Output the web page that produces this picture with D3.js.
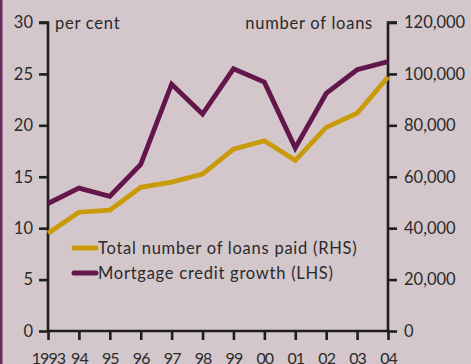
<!DOCTYPE html>
<html><head><meta charset="utf-8">
<script src="https://cdn.jsdelivr.net/npm/d3@7"></script>
<style>
html,body{margin:0;padding:0;background:#d3c7cb;}
svg{display:block;}
text{font-family:Lato,"Open Sans",sans-serif;fill:#2a2a2a;}
</style></head>
<body>
<script>
const years = [1993,1994,1995,1996,1997,1998,1999,2000,2001,2002,2003,2004];
const yearLabels = ["1993","94","95","96","97","98","99","00","01","02","03","04"];
const mortgageGrowth = [12.4,13.9,13.1,16.2,24.0,21.1,25.5,24.2,17.8,23.1,25.4,26.2];
const loansPaid = [38000,46200,47000,55900,57900,61000,70700,74000,66400,79200,84700,98800];
const leftTicks = [0,5,10,15,20,25,30];
const rightTicks = [0,20000,40000,60000,80000,100000,120000];
const seriesNames = ["Total number of loans paid (RHS)","Mortgage credit growth (LHS)"];

const W=471,H=364;
const svg=d3.select("body").append("svg").attr("width",W).attr("height",H);
svg.append("rect").attr("width",W).attr("height",H).attr("fill","#d3c7cb");
svg.append("rect").attr("x",0).attr("y",0).attr("width",2.5).attr("height",H).attr("fill","#6a2a5c");

const x=d3.scaleLinear().domain([1993,2004]).range([48,388]);
const yL=d3.scaleLinear().domain([0,30]).range([331,22.5]);
const yR=d3.scaleLinear().domain([0,120000]).range([331,22.5]);

const axisColor="#1e1e1e";
const fs="16.5px";
const ls="0.75px";

const gl=svg.append("g").attr("transform","translate(48,0)")
  .call(d3.axisLeft(yL).tickValues(leftTicks).tickSize(9).tickPadding(6).tickFormat(d3.format("d")));
const gr=svg.append("g").attr("transform","translate(388,0)")
  .call(d3.axisRight(yR).tickValues(rightTicks).tickSize(9).tickPadding(7).tickFormat(d=>d===0?"0":d3.format(",")(d)));
const gb=svg.append("g").attr("transform","translate(0,331)")
  .call(d3.axisBottom(x).tickValues(years).tickSize(9).tickPadding(13).tickFormat((d,i)=>yearLabels[i]));

[gl,gr,gb].forEach(g=>{
  g.selectAll(".domain").attr("stroke",axisColor).attr("stroke-width",2.6);
  g.selectAll(".tick line").attr("stroke",axisColor).attr("stroke-width",2.6);
  g.selectAll("text").attr("font-size",fs).attr("fill","#2a2a2a").attr("font-family","Lato,sans-serif");
});
gb.selectAll("text").attr("font-size","16px").attr("letter-spacing","-0.9px");
gl.select(".domain").attr("d","M-9,22.5H0V331");
gr.select(".domain").attr("d","M9,22.5H0V331");
gb.select(".domain").attr("d","M48,0H388");

svg.append("text").attr("x",55).attr("y",29).attr("font-size",fs).attr("letter-spacing",ls).text("per cent");
svg.append("text").attr("x",373).attr("y",29).attr("text-anchor","end").attr("font-size",fs).attr("letter-spacing",ls).text("number of loans");

const gold="#c99a0a", purple="#63164a";
const lineL=d3.line().x((d,i)=>x(years[i])).y(d=>yL(d));
const lineR=d3.line().x((d,i)=>x(years[i])).y(d=>yR(d));
svg.append("path").datum(loansPaid).attr("d",lineR).attr("fill","none").attr("stroke",gold).attr("stroke-width",4.8);
svg.append("path").datum(mortgageGrowth).attr("d",lineL).attr("fill","none").attr("stroke",purple).attr("stroke-width",4.8);

const leg=[{n:seriesNames[0],c:gold,y:248},{n:seriesNames[1],c:purple,y:273}];
leg.forEach(l=>{
  svg.append("line").attr("x1",74).attr("x2",96).attr("y1",l.y).attr("y2",l.y)
    .attr("stroke",l.c).attr("stroke-width",5).attr("stroke-linecap","round");
  svg.append("text").attr("x",98).attr("y",l.y+5.5).attr("font-size",fs).attr("letter-spacing",ls).text(l.n);
});
</script>
</body></html>
